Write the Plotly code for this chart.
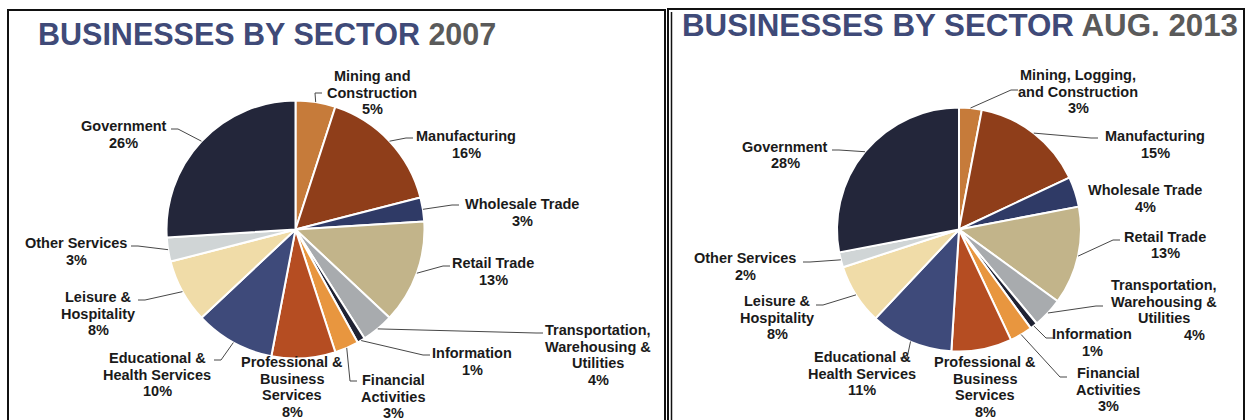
import math
import plotly.graph_objects as go

# ---------------- data ----------------
sectors_2007 = ["Mining and<br>Construction", "Manufacturing", "Wholesale Trade", "Retail Trade",
                "Transportation,<br>Warehousing &<br>Utilities", "Information", "Financial<br>Activities",
                "Professional &<br>Business<br>Services", "Educational &<br>Health Services",
                "Leisure &<br>Hospitality", "Other Services", "Government"]
share_2007 = [5, 16, 3, 13, 4, 1, 3, 8, 10, 8, 3, 26]

sectors_2013 = ["Mining, Logging,<br>and Construction", "Manufacturing", "Wholesale Trade", "Retail Trade",
                "Transportation,<br>Warehousing &<br>Utilities", "Information", "Financial<br>Activities",
                "Professional &<br>Business<br>Services", "Educational &<br>Health Services",
                "Leisure &<br>Hospitality", "Other Services", "Government"]
share_2013 = [3, 15, 4, 13, 4, 1, 3, 8, 11, 8, 2, 28]

title_main = "BUSINESSES BY SECTOR"
title_2007 = "2007"
title_2013 = "AUG. 2013"

# ---------------- style / layout ----------------
W, H = 1248, 420
colors = ["#C67B3A", "#8F3E1A", "#2F3A66", "#C2B48A", "#A8ABAE", "#1F2233",
          "#E8963F", "#B54D22", "#3E4A7A", "#F0DCA8", "#D0D5D6", "#23263A"]
TXT = "#1a1a1a"
LINE_H = 16.5
FONT = "Liberation Sans, Arial, sans-serif"
LABEL_SIZE = 14.5

# pie geometry (pixels)
pie_left = dict(cx=295.5, cy=229.5, r=129)
pie_right = dict(cx=959, cy=229.5, r=122)

# label placement: (center x, first-line y, attach x, attach y, pct dx)
lab_left = [
    (372, 76, 322, 93, 0), (466, 136, 413, 138, 0), (522, 204, 459, 205, 0),
    (493, 263, 450, 266, 0), (598, 330, 543, 333, 0), (472, 353, 430, 355, 0),
    (393, 380, 357, 381, 0), (292, 362, None, None, 0), (157, 358, 214, 360, 0),
    (98, 297, 138, 300, 0), (76, 243, 131, 246, 0), (124, 126, 171, 129, 0),
]
lab_right = [
    (1078, 75, 1018, 90, 0), (1155, 136, 1098, 138, 0), (1145, 190, None, None, 0),
    (1165, 237, 1120, 240, 0), (1164, 285, 1103, 306, 30), (1092, 334, 1053, 338, 0),
    (1108, 373, 1067, 377, 0), (985, 362, None, None, 0), (862, 357, 900, 358, 0),
    (777, 301, 816, 305, 0), (745, 258, 803, 262, 0), (785, 147, 832, 150, 0),
]


def px(x):
    return x / W


def py(y):
    return 1 - y / H


def domain(p):
    return dict(x=[px(p["cx"] - p["r"]), px(p["cx"] + p["r"])],
                y=[py(p["cy"] + p["r"]), py(p["cy"] - p["r"])])


fig = go.Figure()
annotations = []
shapes = []


def add_pie(names, vals, geo, labs):
    fig.add_trace(go.Pie(
        labels=[n.replace("<br>", " ") for n in names], values=vals, sort=False,
        direction="clockwise", rotation=0, textinfo="none",
        marker=dict(colors=colors, line=dict(color="white", width=2)),
        domain=domain(geo), showlegend=False, hoverinfo="label+percent"))
    total = sum(vals)
    cum = 0
    for name, v, lab in zip(names, vals, labs):
        mid = (cum + v / 2) / total * 2 * math.pi
        cum += v
        ex = geo["cx"] + geo["r"] * math.sin(mid)
        ey = geo["cy"] - geo["r"] * math.cos(mid)
        lx, ly, ax, ay, pdx = lab
        lines = name.split("<br>") + [f"{round(v / total * 100)}%"]
        for i, t in enumerate(lines):
            dx = pdx if i == len(lines) - 1 else 0
            annotations.append(dict(
                x=px(lx + dx), y=py(ly + i * LINE_H), xref="paper", yref="paper",
                text=f"<b>{t}</b>", showarrow=False, xanchor="center", yanchor="middle",
                font=dict(family=FONT, size=LABEL_SIZE, color=TXT)))
        if ax is not None:
            ex2 = ax - 7 if ax > ex else ax + 7
            path = f"M {px(ex)} {py(ey)} L {px(ex2)} {py(ay)} L {px(ax)} {py(ay)}"
            shapes.append(dict(type="path", path=path, xref="paper", yref="paper",
                               line=dict(color="#474747", width=1)))


add_pie(sectors_2007, share_2007, pie_left, lab_left)
add_pie(sectors_2013, share_2013, pie_right, lab_right)

# titles
annotations.append(dict(
    x=px(36), y=py(34), xref="paper", yref="paper", xanchor="left", yanchor="middle",
    showarrow=False,
    text=f"<b><span style='color:#3F4A78'>{title_main}</span> <span style='color:#5A5A5A'>{title_2007}</span></b>",
    font=dict(family=FONT, size=30.5)))
annotations.append(dict(
    x=px(680), y=py(25), xref="paper", yref="paper", xanchor="left", yanchor="middle",
    showarrow=False,
    text=f"<b><span style='color:#3F4A78'>{title_main}</span> <span style='color:#5A5A5A'>{title_2013}</span></b>",
    font=dict(family=FONT, size=31.3)))

# panel borders
shapes.append(dict(type="path", xref="paper", yref="paper",
                   path=f"M {px(8)} {py(440)} L {px(8)} {py(10)} L {px(665)} {py(10)} L {px(665)} {py(440)}",
                   line=dict(color="#111", width=2)))
shapes.append(dict(type="path", xref="paper", yref="paper",
                   path=f"M {px(668)} {py(440)} L {px(668)} {py(9)} L {px(1244)} {py(9)} L {px(1244)} {py(440)}",
                   line=dict(color="#111", width=2)))
shapes.append(dict(type="line", xref="paper", yref="paper",
                   x0=px(671.5), x1=px(671.5), y0=py(440), y1=py(12),
                   line=dict(color="#111", width=1.5)))

fig.update_layout(width=W, height=H, margin=dict(l=0, r=0, t=0, b=0),
                  paper_bgcolor="white", plot_bgcolor="white",
                  annotations=annotations, shapes=shapes, showlegend=False)

fig.write_html("out.html", config={"displayModeBar": False},
               post_script="document.body.style.margin='0';document.body.style.padding='0';")
